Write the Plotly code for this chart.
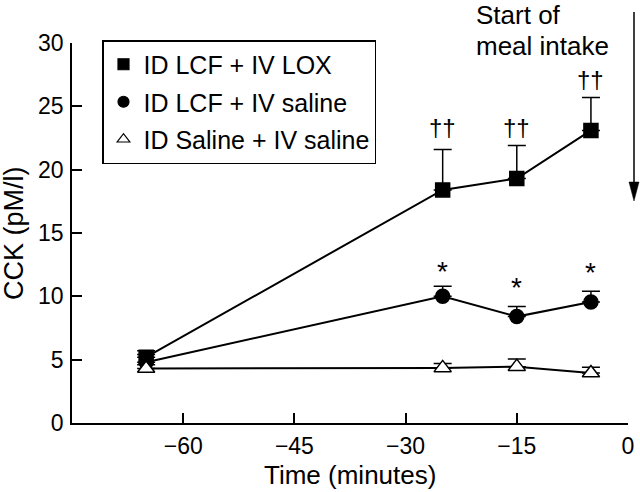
import plotly.graph_objects as go

time = [-65, -25, -15, -5]
lox = [5.2, 18.4, 19.3, 23.1]
lox_err = [0.5, 3.2, 2.6, 2.6]
lcf = [4.8, 10.0, 8.4, 9.55]
lcf_err = [0.6, 0.8, 0.8, 0.85]
sal = [4.3, 4.35, 4.45, 3.95]
sal_err = [0.3, 0.35, 0.6, 0.45]

names = ["ID LCF + IV LOX", "ID LCF + IV saline", "ID Saline + IV saline"]
symbols = ["square", "circle", "triangle-up-open"]

dagger_x = [-25, -15, -5]
dagger_y = [23.33, 23.33, 27.1]
star_x = [-25, -15, -5]
star_y = [12.0, 10.7, 11.88]

FONT = "Arial, Liberation Sans, Helvetica, sans-serif"

W, H = 640, 492
L, R, T, B = 72, 12, 43, 69
PW, PH = W - L - R, H - T - B


def px(x):
    return (x - L) / PW


def py(y):
    return (H - B - y) / PH


fig = go.Figure()
for ys, errs, sym in [(lox, lox_err, "square"), (lcf, lcf_err, "circle"), (sal, sal_err, "triangle-up")]:
    fill = "white" if sym == "triangle-up" else "black"
    fig.add_trace(go.Scatter(
        x=time, y=ys, mode="lines+markers", showlegend=False,
        line=dict(color="black", width=2),
        marker=dict(symbol=sym, size=14 if sym != "triangle-up" else 15, color=fill,
                    line=dict(color="black", width=1.5)),
        error_y=dict(type="data", array=errs, arrayminus=[0]*len(errs), symmetric=False,
                     color="black", thickness=1.5, width=9),
    ))

for i, (nm, sym) in enumerate(zip(names, symbols)):
    fig.add_trace(go.Scatter(
        x=[None], y=[None], mode="markers", name=nm, legendgroup=str(i),
        marker=dict(symbol=sym, size=11, color="black", line=dict(color="black", width=1.2)),
    ))

for x, y in zip(dagger_x, dagger_y):
    fig.add_annotation(x=x, y=y, text="††", showarrow=False, font=dict(size=24, color="black", family=FONT))
for x, y in zip(star_x, star_y):
    fig.add_annotation(x=x, y=y, text="*", showarrow=False, font=dict(size=28, color="black", family=FONT))

# Start of meal intake label and arrow
fig.add_annotation(xref="paper", yref="paper", x=px(475), y=py(15), xanchor="left", yanchor="middle",
                   text="Start of", showarrow=False, align="left", borderpad=0,
                   font=dict(size=26, color="black", family=FONT))
fig.add_annotation(xref="paper", yref="paper", x=px(475), y=py(46), xanchor="left", yanchor="middle",
                   text="meal intake", showarrow=False, align="left", borderpad=0,
                   font=dict(size=26, color="black", family=FONT))
fig.add_shape(type="line", xref="paper", yref="paper", x0=px(634), x1=px(634), y0=py(12), y1=py(184),
              line=dict(color="black", width=1.5))
fig.add_shape(type="path", xref="paper", yref="paper",
              path=f"M {px(629)} {py(182)} L {px(639)} {py(182)} L {px(634)} {py(201)} Z",
              fillcolor="black", line=dict(color="black", width=0.5))

# axis titles
fig.add_annotation(xref="paper", yref="paper", x=px(350), y=py(475), xanchor="center", yanchor="middle",
                   text="Time (minutes)", showarrow=False, borderpad=0,
                   font=dict(size=26, color="black", family=FONT))
fig.add_annotation(xref="paper", yref="paper", x=px(14), y=py(233), xanchor="center", yanchor="middle",
                   text="CCK (pM/l)", textangle=-90, showarrow=False, borderpad=0,
                   font=dict(size=27, color="black", family=FONT))

fig.update_layout(
    width=W, height=H,
    margin=dict(l=L, r=R, t=T, b=B, autoexpand=False),
    paper_bgcolor="white", plot_bgcolor="white",
    font=dict(family=FONT, size=23, color="black"),
    legend=dict(x=px(102), y=py(40), xanchor="left", yanchor="top",
                bordercolor="black", borderwidth=1.5, bgcolor="white",
                font=dict(size=25), tracegroupgap=2, itemwidth=30),
)
fig.update_xaxes(range=[-75, 0], tickvals=[-60, -45, -30, -15, 0],
                 ticktext=["−60", "−45", "−30", "−15", "0"],
                 ticks="inside", ticklen=10, tickwidth=1.5, tickcolor="black",
                 showline=True, linecolor="black", linewidth=1.5, showgrid=False, zeroline=False,
                 tickfont=dict(size=23), ticklabelstandoff=2, automargin=False)
fig.update_yaxes(range=[0, 30], tickvals=[0, 5, 10, 15, 20, 25, 30],
                 ticks="inside", ticklen=10, tickwidth=1.5, tickcolor="black",
                 showline=True, linecolor="black", linewidth=1.5, showgrid=False, zeroline=False,
                 tickfont=dict(size=23), ticklabelstandoff=2, automargin=False)

fig.write_html("out.html", config={"displayModeBar": False},
               post_script="document.body.style.margin='0';document.body.style.padding='0';")
